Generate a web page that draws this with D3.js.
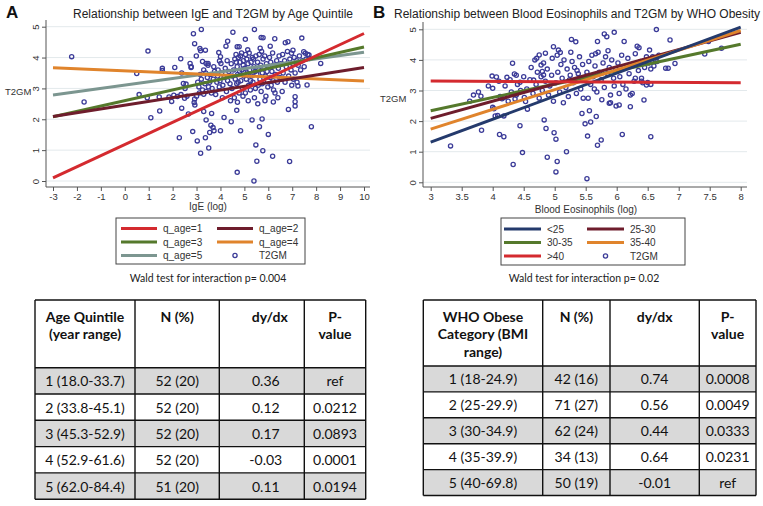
<!DOCTYPE html>
<html><head><meta charset="utf-8">
<script src="https://cdn.jsdelivr.net/npm/d3@7"></script>
<style>body{margin:0;background:#fff}svg{display:block}</style>
</head><body>
<svg id="fig" width="763" height="506"></svg>
<script>
// ---------------- DATA ----------------
const ageGroups = ["q_age=1","q_age=2","q_age=3","q_age=4","q_age=5"];
const ageFitAtMin = [0.10, 2.09, 2.08, 3.67, 2.79];   // fitted T2GM at IgE = -3
const ageFitAtMax = [4.78, 3.68, 4.34, 3.24, 4.17];   // fitted T2GM at IgE = 10
const igeTicks = [-3,-2,-1,0,1,2,3,4,5,6,7,8,9,10];
const t2gmTicks = [0,1,2,3,4,5];

const bmiGroups = ["<25","25-30","30-35","35-40",">40"];
const bmiFitAtMin = [1.31, 2.09, 2.34, 1.74, 3.31];   // at Eos = 3
const bmiFitAtMax = [5.07, 4.90, 4.51, 4.96, 3.25];   // at Eos = 8
const eosTicks = [3,3.5,4,4.5,5,5.5,6,6.5,7,7.5,8];

const igePoints = [
[-2.22,4.03],[-1.7,2.56],[0.5,3.48],[0.6,2.8],[0.97,4.21],[0.94,2.7],[1.09,2.05],[1.46,2.27],[1.57,3.65],[1.57,3.58],
[1.44,2.72],[1.96,2.58],[2.09,3.68],[2.38,3.5],[2.34,3.96],[2.28,1.4],[2.38,2.36],[1.85,2.72],[2.05,2.78],[2.2,2.74],
[2.35,2.8],[2.5,2.68],[2.6,2.75],[2.73,3.81],[2.77,3.68],[2.87,4.77],[2.92,4.45],[3.2,4.91],[3.14,4.29],[3.17,4.22],
[3.37,4.24],[2.99,4.05],[2.45,3.16],[2.56,3.14],[2.52,3.0],[2.66,2.17],[2.84,1.6],[3.03,1.3],[3.17,0.9],[3.37,1.4],
[3.51,1.07],[3.55,1.57],[3.6,1.81],[3.4,1.98],[3.69,1.73],[3.73,1.63],[3.63,2.19],[4.0,1.63],[4.15,2.06],[4.45,1.92],
[4.84,1.63],[4.68,2.29],[4.71,2.55],[4.7,0.28],[5.32,1.98],[5.4,0.0],[5.48,1.17],[5.52,0.64],[5.63,1.76],[5.74,2.01],
[5.77,0.98],[6.0,1.51],[6.18,0.8],[6.21,2.56],[6.84,2.32],[6.89,0.63],[7.12,2.73],[7.12,2.57],[7.12,2.43],[7.24,3.08],
[7.8,1.76],[7.62,3.11],[8.19,3.81],[7.7,4.08],[7.55,4.14],[7.48,4.19],[7.4,4.63],[6.82,4.51],[6.71,4.48],[6.27,4.61],
[6.08,4.37],[5.78,4.64],[5.7,4.65],[5.42,4.91],[5.04,4.59],[4.78,4.35],[4.7,4.35],[4.52,4.82],[4.23,4.37],[4.3,4.53],
[3.93,4.16],[4.0,4.03],[3.96,3.89],[4.02,3.81],[3.25,3.87],[3.4,3.81],[3.48,3.81],[2.78,3.7],[3.3,2.81],[2.92,2.66],
[2.9,2.54],[2.93,2.46],[3.3,2.25],[7.03,4.24],[6.97,4.14],[7.71,3.97],
[3.05,3.2],[3.1,3.05],[3.15,3.45],[3.2,3.3],[3.25,2.95],[3.3,3.6],[3.35,3.15],[3.4,2.9],[3.45,3.35],[3.5,3.05],
[3.0,2.75],[3.12,2.85],[3.38,3.5],[3.48,3.75],[3.55,3.2],
[3.6,3.45],[3.65,3.0],[3.7,3.3],[3.75,3.55],[3.8,2.8],[3.85,3.2],[3.9,3.6],[3.95,3.05],[3.62,2.85],[3.72,3.7],[3.88,3.4],[3.98,3.25],
[4.05,3.5],[4.1,3.1],[4.15,3.35],[4.2,3.65],[4.25,2.9],[4.3,3.25],[4.35,3.55],[4.4,3.15],[4.45,3.8],[4.5,3.4],[4.08,2.7],[4.28,3.9],[4.42,2.6],[4.48,3.0],
[4.55,3.6],[4.6,3.95],[4.62,3.3],[4.65,4.1],[4.68,3.15],[4.7,3.7],[4.72,3.45],[4.75,4.0],[4.78,2.85],[4.8,3.55],[4.82,3.85],[4.85,3.25],
[4.88,4.15],[4.9,3.6],[4.92,3.0],[4.95,3.75],[4.98,3.4],[4.58,2.7],[4.66,3.85],[4.74,3.2],[4.84,4.05],[4.94,2.75],[4.96,3.9],
[5.02,3.65],[5.05,4.1],[5.08,3.3],[5.1,3.95],[5.12,3.5],[5.15,3.8],[5.18,3.1],[5.2,4.15],[5.22,3.6],[5.25,2.95],[5.28,3.85],[5.3,3.4],
[5.33,4.0],[5.36,3.2],[5.4,3.7],[5.42,2.7],[5.45,3.55],[5.48,4.05],[5.04,2.85],[5.14,4.25],[5.26,3.25],[5.38,3.95],[5.46,3.0],[5.16,2.6],
[5.52,3.45],[5.55,3.85],[5.58,3.1],[5.6,3.6],[5.62,4.1],[5.65,3.3],[5.68,3.75],[5.7,2.9],[5.72,4.2],[5.75,3.5],[5.78,3.95],[5.8,3.2],
[5.82,3.65],[5.85,4.05],[5.88,3.4],[5.9,2.75],[5.92,3.8],[5.95,3.55],[5.98,3.05],[5.56,2.5],[5.66,4.3],[5.86,2.6],[5.74,3.15],
[6.02,3.7],[6.05,4.0],[6.08,3.35],[6.1,3.85],[6.12,3.1],[6.15,3.55],[6.18,4.15],[6.2,3.25],[6.25,3.75],[6.28,2.85],[6.3,3.45],[6.35,3.9],
[6.38,3.2],[6.42,3.65],[6.45,4.05],[6.48,3.35],[6.22,2.95],[6.4,2.7],
[6.52,3.8],[6.55,3.3],[6.6,4.1],[6.62,3.5],[6.68,3.9],[6.7,3.2],[6.75,3.7],[6.8,4.2],[6.85,3.4],[6.9,3.95],[6.95,3.6],[6.98,3.1],[6.58,2.9],
[7.02,3.8],[7.08,4.0],[7.12,3.5],[7.18,3.9],[7.25,3.75],[7.3,4.05],[7.35,3.6],[7.42,3.9],[7.5,3.7],[7.58,3.95],[7.65,4.1],[7.05,3.3],[7.2,3.2]
];

const eosPoints = [
[3.32,1.19],[3.82,1.7],[3.63,2.65],[3.69,2.85],[3.77,2.95],[3.81,2.81],[3.93,3.15],[3.99,3.47],[4.06,3.44],[4.0,3.07],
[4.0,2.45],[4.02,2.4],[4.04,2.17],[4.08,2.18],[4.11,1.56],[4.18,1.49],[4.18,2.17],[4.15,2.73],[4.18,2.77],[4.23,3.43],
[4.32,3.89],[4.33,0.58],[4.48,0.97],[4.44,1.85],[4.36,2.72],[4.38,2.85],[4.35,3.54],[4.44,3.27],[4.51,2.77],[4.53,2.64],
[4.56,2.39],[4.66,3.34],[4.71,4.05],[4.75,4.16],[4.85,4.22],[4.78,3.83],[4.8,3.62],[4.82,3.51],[4.83,2.04],[4.86,1.76],
[4.88,0.82],[4.99,1.62],[5.02,1.41],[5.04,0.68],[5.02,0.34],[5.19,1.0],[4.98,4.43],[5.06,4.32],[5.09,4.24],[5.27,4.67],
[5.34,4.59],[5.44,2.25],[5.49,1.91],[5.52,0.12],[5.53,1.51],[5.56,2.34],[5.58,1.97],[5.67,2.15],[5.69,1.21],[5.75,1.38],
[5.69,4.6],[5.8,4.85],[5.84,4.76],[5.96,4.9],[5.88,2.58],[5.9,2.6],[5.99,2.49],[6.04,2.53],[6.09,1.56],[6.12,4.6],
[6.22,2.47],[6.44,2.69],[6.55,1.49],[6.64,4.99],[6.53,4.32],[6.86,4.65],[6.94,3.88],[6.79,3.73],[6.83,3.73],[7.42,4.19],
[7.48,4.6],[7.69,4.38],[6.48,3.18],[6.5,3.26],[6.4,3.3],[6.3,3.4],[6.25,2.9],
[4.25,2.65],[4.3,2.95],[4.2,3.15],[4.45,3.0],[4.4,3.2],[4.12,2.8],[4.5,3.45],[4.38,3.5],[4.1,3.3],[4.28,3.35],
[4.55,3.05],[4.6,3.35],[4.65,2.9],[4.7,3.2],[4.72,3.6],[4.75,2.75],[4.78,3.45],[4.8,3.0],[4.85,3.3],[4.88,3.7],[4.9,2.85],[4.92,3.15],
[4.95,3.5],[4.98,2.65],[4.62,3.75],[4.68,4.0],[4.82,3.9],[4.96,4.05],
[5.02,3.25],[5.05,3.6],[5.08,2.95],[5.1,3.85],[5.12,3.4],[5.15,4.0],[5.18,3.1],[5.2,3.7],[5.22,2.8],[5.25,3.5],[5.28,3.95],[5.3,3.25],
[5.32,3.75],[5.35,2.9],[5.38,3.55],[5.4,4.1],[5.42,3.05],[5.45,3.85],[5.48,3.35],[5.04,4.15],[5.14,2.6],[5.26,4.25],[5.36,3.65],[5.46,2.75],[5.24,3.35],
[5.52,3.6],[5.55,3.95],[5.58,3.2],[5.6,4.15],[5.62,3.45],[5.65,3.8],[5.68,2.95],[5.7,4.25],[5.72,3.6],[5.75,3.35],[5.78,3.9],[5.8,3.1],
[5.82,4.1],[5.85,3.55],[5.88,3.75],[5.9,2.85],[5.92,4.0],[5.95,3.4],[5.98,3.7],[5.54,2.75],[5.64,3.05],[5.76,2.7],[5.86,4.3],[5.96,3.15],[5.66,4.2],
[6.02,3.9],[6.05,3.45],[6.08,4.15],[6.1,3.2],[6.12,3.75],[6.15,3.05],[6.18,4.05],[6.2,3.55],[6.25,3.85],[6.28,3.3],[6.3,4.2],[6.35,3.65],
[6.38,3.95],[6.4,3.4],[6.45,3.75],[6.48,4.1],[6.04,2.9],[6.22,2.85],[6.42,3.25],[6.33,4.45],[6.36,4.4],
[6.52,3.9],[6.55,3.7],[6.58,4.1],[6.6,3.8],[6.62,4.0],[6.65,3.95],[6.68,4.15],[6.55,3.2]
];

const ageTableHeader = [["Age Quintile","(year range)"],["N (%)"],["dy/dx"],["P-","value"]];
const ageRanges = ["1 (18.0-33.7)","2 (33.8-45.1)","3 (45.3-52.9)","4 (52.9-61.6)","5 (62.0-84.4)"];
const ageN = ["52 (20)","52 (20)","52 (20)","52 (20)","51 (20)"];
const ageDydx = ["0.36","0.12","0.17","-0.03","0.11"];
const ageP = ["ref","0.0212","0.0893","0.0001","0.0194"];

const bmiTableHeader = [["WHO Obese","Category (BMI","range)"],["N (%)"],["dy/dx"],["P-","value"]];
const bmiRanges = ["1 (18-24.9)","2 (25-29.9)","3 (30-34.9)","4 (35-39.9)","5 (40-69.8)"];
const bmiN = ["42 (16)","71 (27)","62 (24)","34 (13)","50 (19)"];
const bmiDydx = ["0.74","0.56","0.44","0.64","-0.01"];
const bmiP = ["0.0008","0.0049","0.0333","0.0231","ref"];

// ---------------- DRAW ----------------
const svg = d3.select("#fig");
svg.append("rect").attr("width",763).attr("height",506).attr("fill","#fff");
const AX = "'Liberation Sans', Arial, sans-serif";
const CAL = "Lato, 'Open Sans', sans-serif";
const MARK = "#3b3b98";

function panel(o){
  const g = svg.append("g");
  const x = d3.scaleLinear(o.xDomain, o.xRange);
  const y = d3.scaleLinear([0,5], o.yRange);
  g.selectAll("line.grid").data(t2gmTicks).join("line")
    .attr("x1",o.left).attr("x2",o.right).attr("y1",d=>y(d)).attr("y2",d=>y(d))
    .attr("stroke","#e3e9ec").attr("stroke-width",1);
  g.append("g").selectAll("circle").data(o.points).join("circle")
    .attr("cx",d=>x(d[0])).attr("cy",d=>y(d[1])).attr("r",2.1)
    .attr("fill","none").attr("stroke",MARK).attr("stroke-width",1.3);
  g.append("g").selectAll("line").data(o.order).join("line")
    .attr("x1",x(o.xDomain[0])).attr("x2",x(o.xDomain[1]))
    .attr("y1",i=>y(o.fitMin[i])).attr("y2",i=>y(o.fitMax[i]))
    .attr("stroke",i=>o.colors[i]).attr("stroke-width",3);
  const ya = g.append("g").attr("transform",`translate(${o.left},0)`)
    .call(d3.axisLeft(y).tickValues(t2gmTicks).tickSize(4).tickFormat(d3.format("d")));
  ya.select(".domain").remove();
  ya.selectAll(".tick line").attr("stroke","#555");
  ya.selectAll(".tick text").attr("x",null).attr("dy",null)
    .attr("transform","translate(-7,0) rotate(-90)").attr("text-anchor","middle")
    .attr("font-family",AX).attr("font-size",9.5).attr("fill","#333");
  const xa = g.append("g").attr("transform",`translate(0,${o.bottom})`)
    .call(d3.axisBottom(x).tickValues(o.xTicks).tickSize(4).tickFormat(d=>String(d)));
  xa.select(".domain").remove();
  xa.selectAll(".tick line").attr("stroke","#555");
  xa.selectAll(".tick text").attr("y",6).attr("font-family",AX).attr("font-size",9.5).attr("fill","#333");
  g.append("line").attr("x1",o.left).attr("x2",o.left).attr("y1",o.top).attr("y2",o.bottom).attr("stroke","#555");
  g.append("line").attr("x1",o.left).attr("x2",o.right).attr("y1",o.bottom).attr("y2",o.bottom).attr("stroke","#555");
  g.append("text").attr("x",o.titleX).attr("y",18).attr("text-anchor","middle")
    .attr("font-family",AX).attr("font-size",12).attr("fill","#222").text(o.title);
  g.append("text").attr("x",o.letterX).attr("y",18).attr("font-family",AX).attr("font-weight","bold")
    .attr("font-size",17).attr("fill","#111").text(o.letter);
  g.append("text").attr("x",o.ytX).attr("y",o.ytY).attr("font-family",AX).attr("font-size",9.5)
    .attr("fill","#333").text("T2GM");
  g.append("text").attr("x",o.xtX).attr("y",o.xtY).attr("text-anchor","middle").attr("font-family",AX)
    .attr("font-size",10).attr("fill","#333").text(o.xTitle);
  const L = o.legend;
  g.append("rect").attr("x",L.x).attr("y",L.y).attr("width",L.w).attr("height",L.h)
    .attr("fill","#fff").attr("stroke","#444").attr("stroke-width",1);
  const items = o.groups.map((n,i)=>({name:n,color:o.colors[i],type:"line"}));
  items.push({name:"T2GM",type:"mark"});
  items.forEach((it,k)=>{
    const col = k%2, row = Math.floor(k/2);
    const cy = L.rowY[row];
    const lx = L.colX[col];
    if(it.type==="line"){
      g.append("line").attr("x1",lx).attr("x2",lx+L.sw).attr("y1",cy).attr("y2",cy)
        .attr("stroke",it.color).attr("stroke-width",3);
    } else {
      g.append("circle").attr("cx",lx+L.sw/2).attr("cy",cy).attr("r",2.1).attr("fill","none")
        .attr("stroke",MARK).attr("stroke-width",1.3);
    }
    g.append("text").attr("x",lx+L.sw+6).attr("y",cy+3.6).attr("font-family",AX).attr("font-size",10)
      .attr("fill","#333").text(it.name);
  });
  g.append("text").attr("x",o.waldX).attr("y",282).attr("text-anchor","middle").attr("font-family",CAL)
    .attr("font-size",10.5).attr("fill","#222").text(o.wald);
}

panel({
  xDomain:[-3,10], xRange:[53,364], yRange:[181,26.7], left:46, right:370, top:20, bottom:187,
  xTicks:igeTicks, points:igePoints, fitMin:ageFitAtMin, fitMax:ageFitAtMax,
  colors:["#d42a2f","#6e1d2c","#55792c","#e0842c","#7c9690"], order:[4,3,2,1,0],
  groups:ageGroups, title:"Relationship between IgE and T2GM by Age Quintile", titleX:213,
  letter:"A", letterX:6, ytX:5, ytY:95, xTitle:"IgE (log)", xtX:208, xtY:209.5,
  legend:{x:116,y:218,w:189,h:46,rowY:[228.5,242,255.5],colX:[121,217],sw:36},
  wald:"Wald test for interaction p= 0.004", waldX:208
});
panel({
  xDomain:[3,8], xRange:[430.7,740.7], yRange:[182.3,29.3], left:423, right:747, top:22, bottom:187,
  xTicks:eosTicks, points:eosPoints, fitMin:bmiFitAtMin, fitMax:bmiFitAtMax,
  colors:["#243a6c","#6e1d2c","#55792c","#e0842c","#d42a2f"], order:[2,1,3,0,4],
  groups:bmiGroups, title:"Relationship between Blood Eosinophils and T2GM by WHO Obesity", titleX:577,
  letter:"B", letterX:373, ytX:380, ytY:102, xTitle:"Blood Eosinophils (log)", xtX:586, xtY:213,
  legend:{x:501,y:218,w:184,h:47,rowY:[229,242.5,256],colX:[504,587],sw:37},
  wald:"Wald test for interaction p= 0.02", waldX:584
});

function table(o){
  const g = svg.append("g");
  const E = o.edges;
  const rows = o.c1.map((d,i)=>[d,o.c2[i],o.c3[i],o.c4[i]]);
  const rowTop = i => o.headBottom + i*o.rowH;
  rows.forEach((r,i)=>{
    if(i%2===0) g.append("rect").attr("x",E[0]).attr("y",rowTop(i)).attr("width",E[4]-E[0])
      .attr("height",o.rowH).attr("fill","#d9d9d9");
  });
  const bottom = rowTop(rows.length);
  E.forEach(xe=>g.append("line").attr("x1",xe).attr("x2",xe).attr("y1",o.top).attr("y2",bottom)
    .attr("stroke","#111").attr("stroke-width",1.4));
  [o.top, ...d3.range(rows.length+1).map(rowTop)].forEach(yy=>g.append("line")
    .attr("x1",E[0]).attr("x2",E[4]).attr("y1",yy).attr("y2",yy).attr("stroke","#111").attr("stroke-width",1.4));
  o.header.forEach((lines,c)=>{
    lines.forEach((t,k)=>g.append("text").attr("x",(E[c]+E[c+1])/2+(o.hdx[c]||0))
      .attr("y",o.top+21.5+k*17.7).attr("text-anchor","middle").attr("font-family",CAL)
      .attr("font-weight","bold").attr("font-size",14).attr("fill","#111").text(t));
  });
  rows.forEach((r,i)=>r.forEach((t,c)=>g.append("text").attr("x",(E[c]+E[c+1])/2+(o.cdx[c]||0))
    .attr("y",rowTop(i)+o.rowH/2+5.5).attr("text-anchor","middle").attr("font-family",CAL)
    .attr("font-size",14).attr("fill","#111").text(t)));
}
table({edges:[35,135,219.3,304.3,365.7], top:300, headBottom:367.7, rowH:26.3,
  header:ageTableHeader, c1:ageRanges, c2:ageN, c3:ageDydx, c4:ageP, hdx:[0,0,8,0], cdx:[0,0,4,0]});
table({edges:[423.3,542.7,610,699.3,756], top:300, headBottom:366, rowH:25.9,
  header:bmiTableHeader, c1:bmiRanges, c2:bmiN, c3:bmiDydx, c4:bmiP, hdx:[0,0,0,0], cdx:[0,0,0,0]});
</script>
</body></html>
